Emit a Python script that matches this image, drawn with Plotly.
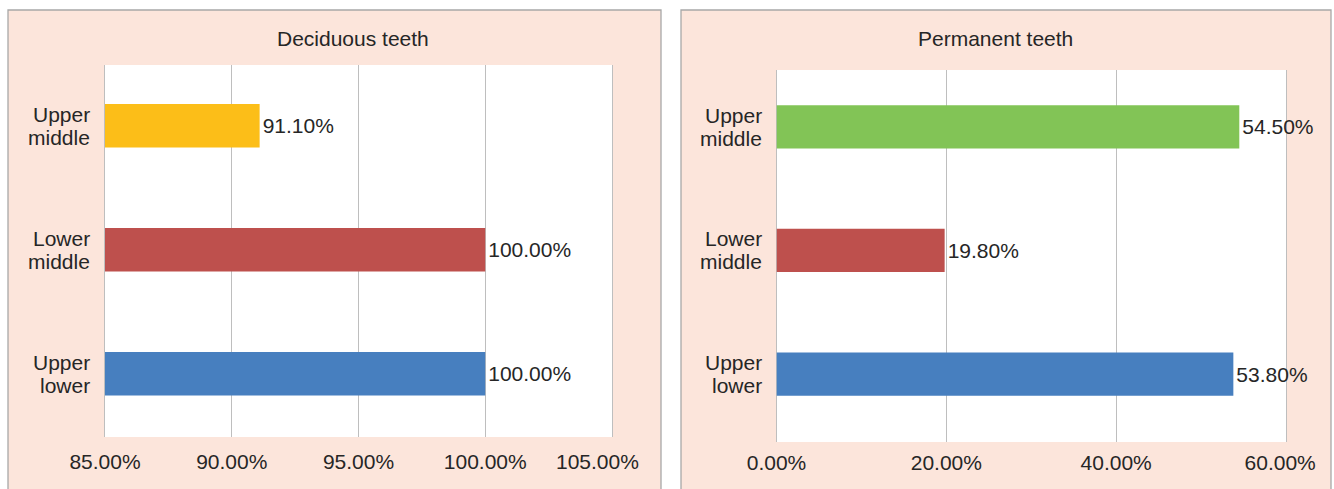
import plotly.graph_objects as go

W, H = 1334, 489

categories = ["Upper middle", "Lower middle", "Upper lower"]
deciduous = [91.10, 100.00, 100.00]
permanent = [54.50, 19.80, 53.80]
dec_colors = ["#FCBE18", "#BE504D", "#477FBF"]
perm_colors = ["#82C456", "#BE504D", "#477FBF"]
dec_ticks = [85, 90, 95, 100, 105]
perm_ticks = [0, 20, 40, 60]
titles = ["Deciduous teeth", "Permanent teeth"]

FONT = "Liberation Sans, Arial, sans-serif"
FS = 21
TXT = "#262626"
PANEL = "#FCE5DB"
GRID = "#BEBEBE"
NB = "\u00a0"

def px(x):
    return x / W

def py(y):
    return 1 - y / H

order = categories[::-1]  # bottom to top

fig = go.Figure()

fig.add_trace(go.Bar(
    y=categories, x=deciduous, orientation="h",
    marker=dict(color=dec_colors, line=dict(width=0)),
    width=0.35,
    text=[f"{v:.2f}%" for v in deciduous], textposition="outside",
    textfont=dict(family=FONT, size=FS, color=TXT),
    cliponaxis=False, xaxis="x", yaxis="y", showlegend=False,
))
fig.add_trace(go.Bar(
    y=categories, x=permanent, orientation="h",
    marker=dict(color=perm_colors, line=dict(width=0)),
    width=0.35,
    text=[f"{v:.2f}%" for v in permanent], textposition="outside",
    textfont=dict(family=FONT, size=FS, color=TXT),
    cliponaxis=False, xaxis="x2", yaxis="y2", showlegend=False,
))

common_x = dict(
    showgrid=True, gridcolor=GRID, gridwidth=1.3, zeroline=False,
    showline=False, ticks="", automargin=False, layer="below traces",
    tickfont=dict(family=FONT, size=FS, color=TXT), fixedrange=True,
)
common_y = dict(
    categoryorder="array", categoryarray=order,
    showgrid=False, zeroline=False, showline=True, mirror=True,
    linecolor=GRID, linewidth=1.4, layer="below traces",
    ticks="", showticklabels=False, automargin=False, fixedrange=True,
)

def tick_text(vals, pad_last):
    out = [f"{v:.2f}%" for v in vals]
    out[-1] = out[-1] + NB * pad_last
    return out

fig.update_layout(
    width=W, height=H,
    margin=dict(l=0, r=0, t=0, b=0, pad=0, autoexpand=False),
    paper_bgcolor="white", plot_bgcolor="white",
    xaxis=dict(domain=[px(105), px(612)], range=[85, 105],
               tickvals=dec_ticks, ticktext=tick_text(dec_ticks, 5),
               anchor="y", ticklabelstandoff=10, **common_x),
    yaxis=dict(domain=[py(437), py(65)], anchor="x", range=[-0.51, 2.49], **common_y),
    xaxis2=dict(domain=[px(776.5), px(1286)], range=[0, 60],
                tickvals=perm_ticks, ticktext=tick_text(perm_ticks, 2),
                anchor="y2", ticklabelstandoff=6, **common_x),
    yaxis2=dict(domain=[py(442), py(70)], anchor="x2", range=[-0.55, 2.46], **common_y),
    font=dict(family=FONT, color=TXT),
)

# panel backgrounds
for x0, x1 in [(8, 661), (681, 1331)]:
    fig.add_shape(type="rect", xref="paper", yref="paper",
                  x0=px(x0), x1=px(x1), y0=py(492), y1=py(10),
                  fillcolor=PANEL, line=dict(color="#A8A8A8", width=1.3),
                  layer="below")
# white plot areas
for xa, ya in [("x", "y"), ("x2", "y2")]:
    fig.add_shape(type="rect", xref=f"{xa} domain", yref=f"{ya} domain",
                  x0=0, x1=1, y0=0, y1=1, fillcolor="white",
                  line=dict(width=0), layer="below")

# panel titles
for t, cx in zip(titles, [353, 995]):
    fig.add_annotation(text=t, xref="paper", yref="paper", x=px(cx), y=py(39),
                       showarrow=False, xanchor="center", yanchor="middle",
                       font=dict(family=FONT, size=FS, color=TXT))

# category labels (two lines, tighter line spacing as in the original)
for xa, ya in [("x", "y"), ("x2", "y2")]:
    for c in categories:
        words = c.split(" ")
        for k, w in enumerate(words):
            fig.add_annotation(text=w, xref=f"{xa} domain", yref=ya,
                               x=0, y=order.index(c), xanchor="right",
                               yanchor="middle", xshift=-13,
                               yshift=11.5 - 23 * k, showarrow=False,
                               font=dict(family=FONT, size=FS, color=TXT))

fig.write_html("out.html")
